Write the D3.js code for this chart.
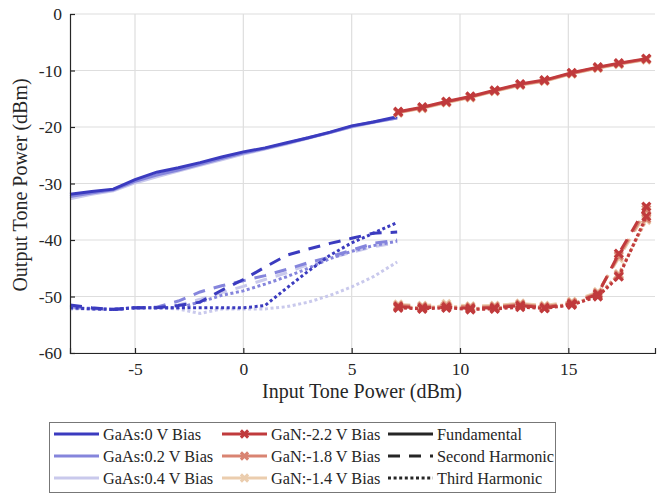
<!DOCTYPE html>
<html>
<head>
<meta charset="utf-8">
<script src="https://cdn.jsdelivr.net/npm/d3@7"></script>
<style>
  body { margin: 0; background: #fff; }
  text { font-family: "Liberation Serif", serif; fill: #262626; }
</style>
</head>
<body>
<div id="main"></div>
<script>
const ctx = {
    w: 660,
    h: 495,
};

// input power sweeps
const gaasX = [-8, -7, -6, -5, -4, -3, -2, -1, 0, 1, 2, 3, 4, 5, 6, 7.1];
const ganX = [7.15, 8.26, 9.37, 10.48, 11.6, 12.78, 13.9, 15.16, 16.36, 17.33, 18.6];

// GaAs, 0 V / 0.2 V / 0.4 V bias
const gaas0Fund = [-31.9, -31.4, -31.0, -29.3, -28.0, -27.2, -26.3, -25.3, -24.4, -23.7, -22.8, -21.9, -20.9, -19.8, -19.1, -18.2];
const gaas0Second = [-51.5, -52.0, -52.3, -52.0, -52.0, -51.6, -51.0, -48.9, -47.0, -44.8, -42.7, -41.6, -40.6, -39.7, -38.8, -38.6];
const gaas0Third = [-52.0, -52.2, -52.3, -52.0, -52.0, -52.0, -52.0, -52.0, -52.0, -51.6, -48.5, -45.5, -42.7, -40.5, -38.8, -36.9];

const gaas02Fund = [-32.3, -31.7, -31.1, -29.6, -28.5, -27.6, -26.6, -25.6, -24.6, -23.8, -22.9, -21.9, -21.0, -19.9, -19.1, -18.4];
const gaas02Second = [-51.8, -52.1, -52.2, -52.0, -51.9, -50.8, -49.2, -48.1, -47.2, -46.3, -45.2, -44.0, -43.0, -41.8, -40.6, -40.0];
const gaas02Third = [-52.0, -52.1, -52.2, -52.0, -52.0, -52.0, -51.0, -49.8, -49.0, -47.8, -46.5, -45.0, -43.3, -42.0, -41.0, -40.2];

const gaas04Fund = [-32.7, -31.9, -31.3, -29.9, -28.8, -27.8, -26.8, -25.8, -24.8, -23.9, -23.0, -22.0, -21.0, -20.0, -19.2, -18.4];
const gaas04Second = [-52.0, -52.2, -52.3, -52.1, -52.0, -51.5, -50.5, -49.3, -48.2, -47.0, -45.8, -44.3, -43.2, -42.2, -41.2, -40.5];
const gaas04Third = [-52.2, -52.2, -52.3, -52.0, -52.0, -52.2, -53.0, -52.2, -52.2, -52.2, -51.8, -51.0, -49.8, -48.3, -46.5, -43.9];

// GaN, -2.2 V / -1.8 V / -1.4 V bias
const gan22Fund = [-17.3, -16.5, -15.5, -14.6, -13.5, -12.4, -11.7, -10.4, -9.4, -8.7, -7.9];
const gan22Second = [-51.8, -52.0, -51.9, -52.1, -52.0, -51.6, -52.0, -51.3, -49.6, -42.4, -34.1];
const gan22Third = [-52.0, -52.2, -52.0, -52.3, -52.2, -51.9, -52.1, -51.5, -50.0, -46.5, -35.8];

const gan18Fund = [-17.4, -16.6, -15.6, -14.7, -13.6, -12.5, -11.8, -10.5, -9.5, -8.8, -8.0];
const gan18Second = [-51.6, -51.8, -51.6, -51.9, -51.8, -51.4, -51.8, -51.1, -49.4, -42.8, -34.6];
const gan18Third = [-51.9, -52.1, -51.8, -52.2, -52.1, -51.7, -52.0, -51.4, -49.9, -46.2, -36.2];

const gan14Fund = [-17.5, -16.7, -15.7, -14.8, -13.7, -12.6, -11.9, -10.6, -9.6, -8.9, -8.1];
const gan14Second = [-51.4, -51.6, -51.3, -51.7, -51.6, -51.2, -51.6, -50.9, -49.2, -43.2, -35.0];
const gan14Third = [-51.8, -52.0, -51.6, -52.1, -52.0, -51.6, -51.9, -51.3, -49.8, -46.0, -36.5];

const xTicks = [-5, 0, 5, 10, 15];
const yTicks = [0, -10, -20, -30, -40, -50, -60];

const deviceNames = ["GaAs:0 V Bias", "GaAs:0.2 V Bias", "GaAs:0.4 V Bias", "GaN:-2.2 V Bias", "GaN:-1.8 V Bias", "GaN:-1.4 V Bias"];
const harmonicNames = ["Fundamental", "Second Harmonic", "Third Harmonic"];

const colors = {
    gaas0: "#3b3bbf",
    gaas02: "#8585dc",
    gaas04: "#c9c9ec",
    gan22: "#c03a3c",
    gan18: "#d98472",
    gan14: "#ebcdae",
};

const dashes = ["none", "12,9", "3,2.6"];

// lightest first so the darker curves sit on top
const series = [
    {x: gaasX, color: colors.gaas04, marker: false, ys: [gaas04Fund, gaas04Second, gaas04Third]},
    {x: gaasX, color: colors.gaas02, marker: false, ys: [gaas02Fund, gaas02Second, gaas02Third]},
    {x: gaasX, color: colors.gaas0, marker: false, ys: [gaas0Fund, gaas0Second, gaas0Third]},
    {x: ganX, color: colors.gan14, marker: true, ys: [gan14Fund, gan14Second, gan14Third]},
    {x: ganX, color: colors.gan18, marker: true, ys: [gan18Fund, gan18Second, gan18Third]},
    {x: ganX, color: colors.gan22, marker: true, ys: [gan22Fund, gan22Second, gan22Third]},
];

function crossPath(s) {
    return `M${-s},${-s}L${s},${s}M${-s},${s}L${s},${-s}`;
}

function createViz() {
    const svgEl = d3.select("#main").append("svg")
        .attr("width", ctx.w)
        .attr("height", ctx.h);

    const x = d3.scaleLinear().domain([-8, 19]).range([70, 655]);
    const y = d3.scaleLinear().domain([-60, 0]).range([353, 14]);

    // grid
    svgEl.append("g")
        .selectAll("line.vg")
        .data(xTicks)
        .enter().append("line")
        .attr("x1", d => x(d)).attr("x2", d => x(d))
        .attr("y1", y(0)).attr("y2", y(-60))
        .style("stroke", "#dedede").style("stroke-width", 1.2);
    svgEl.append("g")
        .selectAll("line.hg")
        .data(yTicks)
        .enter().append("line")
        .attr("x1", x(-8)).attr("x2", x(19))
        .attr("y1", d => y(d)).attr("y2", d => y(d))
        .style("stroke", "#dedede").style("stroke-width", 1.2);

    // curves
    const line = d3.line()
        .x(d => x(d[0]))
        .y(d => y(d[1]));

    const plot = svgEl.append("g");
    series.forEach(s => {
        s.ys.forEach((vals, i) => {
            const pts = s.x.map((v, k) => [v, vals[k]]);
            plot.append("path")
                .datum(pts)
                .attr("d", line)
                .style("fill", "none")
                .style("stroke", s.color)
                .style("stroke-width", 3)
                .style("stroke-dasharray", dashes[i]);
            if (s.marker) {
                plot.selectAll(null)
                    .data(pts)
                    .enter().append("path")
                    .attr("transform", d => `translate(${x(d[0])},${y(d[1])})`)
                    .attr("d", crossPath(4))
                    .style("fill", "none")
                    .style("stroke", s.color)
                    .style("stroke-width", 3.2);
            }
        });
    });

    // axes
    const xAxis = svgEl.append("g")
        .attr("transform", `translate(0,${y(-60)})`)
        .call(d3.axisBottom(x).tickValues(xTicks).tickSize(-5).tickPadding(10));
    const yAxis = svgEl.append("g")
        .attr("transform", `translate(${x(-8)},0)`)
        .call(d3.axisLeft(y).tickValues(yTicks).tickSize(-5).tickPadding(8));
    [xAxis, yAxis].forEach(a => {
        a.select(".domain").style("stroke", "#262626").style("stroke-width", 1.2);
        a.selectAll(".tick line").style("stroke", "#262626").style("stroke-width", 1.2);
        a.selectAll(".tick text")
            .style("font-family", "'Liberation Serif', serif")
            .style("font-size", "17.5px")
            .style("fill", "#262626")
            .text(d => String(d));
    });

    svgEl.append("text")
        .attr("x", 362)
        .attr("y", 398)
        .attr("text-anchor", "middle")
        .style("font-size", "20px")
        .text("Input Tone Power (dBm)");

    svgEl.append("text")
        .attr("transform", "translate(27,185) rotate(-90)")
        .attr("text-anchor", "middle")
        .style("font-size", "20px")
        .text("Output Tone Power (dBm)");

    // legend
    const leg = svgEl.append("g");
    leg.append("rect")
        .attr("x", 49.5).attr("y", 422.5)
        .attr("width", 506).attr("height", 70)
        .style("fill", "#fff")
        .style("stroke", "#777")
        .style("stroke-width", 1);

    const rowY = [434, 456, 478];
    const colX = [54, 222, 388];
    const legendItems = [];
    deviceNames.forEach((name, i) => {
        const s = series[[2, 1, 0, 5, 4, 3][i]];
        legendItems.push({name: name, col: i < 3 ? 0 : 1, row: i % 3, color: s.color, dash: "none", marker: s.marker});
    });
    harmonicNames.forEach((name, i) => {
        legendItems.push({name: name, col: 2, row: i, color: "#262626", dash: dashes[i], marker: false});
    });

    legendItems.forEach(it => {
        const lx = colX[it.col], ly = rowY[it.row];
        leg.append("line")
            .attr("x1", lx).attr("x2", lx + 45)
            .attr("y1", ly).attr("y2", ly)
            .style("stroke", it.color)
            .style("stroke-width", 3)
            .style("stroke-dasharray", it.dash);
        if (it.marker) {
            leg.append("path")
                .attr("transform", `translate(${lx + 22.5},${ly})`)
                .attr("d", crossPath(3.6))
                .style("fill", "none")
                .style("stroke", it.color)
                .style("stroke-width", 3);
        }
        leg.append("text")
            .attr("x", lx + 49)
            .attr("y", ly + 5.5)
            .style("font-size", "16.3px")
            .text(it.name);
    });
}

createViz();
</script>
</body>
</html>
